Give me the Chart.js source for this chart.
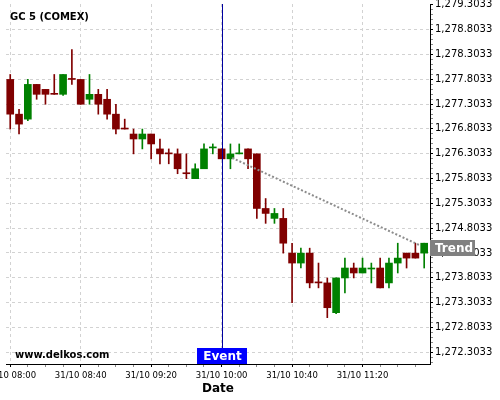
<!DOCTYPE html>
<html><head><meta charset="utf-8">
<script src="https://cdn.jsdelivr.net/npm/chart.js@4.4.1/dist/chart.umd.min.js"></script>
<style>html,body{margin:0;padding:0;background:#fff}canvas{display:block}</style>
</head><body>
<canvas id="c" width="500" height="400"></canvas>
<script>
const times = ["08:00","08:05","08:10","08:15","08:20","08:25","08:30","08:35","08:40","08:45","08:50","08:55",
               "09:00","09:05","09:10","09:15","09:20","09:25","09:30","09:35","09:40","09:45","09:50","09:55",
               "10:00","10:05","10:10","10:15","10:20","10:25","10:30","10:35","10:40","10:45","10:50","10:55",
               "11:00","11:05","11:10","11:15","11:20","11:25","11:30","11:35","11:40","11:45","11:50","11:55"];
const opens  = [1277.8,1277.1,1277.0,1277.7,1277.6,1277.52,1277.5,1277.82,1277.8,1277.4,1277.5,1277.4,
                1277.1,1276.82,1276.7,1276.6,1276.7,1276.4,1276.32,1276.3,1275.92,1275.8,1276.0,1276.42,
                1276.4,1276.2,1276.3,1276.4,1276.3,1275.2,1275.0,1275.0,1274.3,1274.1,1274.3,1273.72,
                1273.7,1273.1,1273.8,1274.0,1273.9,1273.98,1274.0,1273.7,1274.1,1274.3,1274.3,1274.3];
const highs  = [1277.9,1277.2,1277.8,1277.7,1277.6,1277.9,1277.9,1278.4,1277.8,1277.9,1277.6,1277.6,
                1277.3,1277.0,1276.8,1276.8,1276.7,1276.6,1276.4,1276.4,1276.3,1276.1,1276.5,1276.5,
                1276.4,1276.5,1276.5,1276.4,1276.3,1275.4,1275.2,1275.2,1274.5,1274.4,1274.4,1274.1,
                1273.8,1273.8,1274.2,1274.1,1274.2,1274.1,1274.2,1274.2,1274.5,1274.3,1274.5,1274.5];
const lows   = [1276.8,1276.7,1276.97,1277.4,1277.3,1277.5,1277.48,1277.7,1277.3,1277.3,1277.1,1277.0,
                1276.7,1276.8,1276.3,1276.4,1276.2,1276.1,1276.1,1275.9,1275.8,1275.8,1276.0,1276.3,
                1276.2,1276.0,1276.3,1276.0,1275.0,1274.9,1274.9,1274.3,1273.3,1274.0,1273.6,1273.6,
                1273.0,1273.08,1273.5,1273.8,1273.9,1273.7,1273.6,1273.6,1273.9,1274.0,1274.2,1274.0];
const closes = [1277.1,1276.9,1277.7,1277.5,1277.5,1277.5,1277.9,1277.8,1277.3,1277.5,1277.3,1277.1,
                1276.8,1276.8,1276.6,1276.7,1276.5,1276.3,1276.3,1276.0,1275.9,1276.0,1276.4,1276.44,
                1276.2,1276.3,1276.32,1276.2,1275.2,1275.1,1275.1,1274.5,1274.1,1274.3,1273.7,1273.7,
                1273.2,1273.8,1274.0,1273.9,1274.0,1274.0,1273.6,1274.1,1274.2,1274.2,1274.2,1274.5];
const trendTimes  = ["10:06","11:53"];
const trendValues = [1276.22,1274.45];
const eventTime = "10:00";
const xTickLabels = ["31/10 08:00","31/10 08:40","31/10 09:20","31/10 10:00","31/10 10:40","31/10 11:20"];
const yTickValues = [1272.3033,1272.8033,1273.3033,1273.8033,1274.3033,1274.8033,1275.3033,
                     1275.8033,1276.3033,1276.8033,1277.3033,1277.8033,1278.3033,1278.8033,1279.3033];
const titleText = "GC 5 (COMEX)";
const siteText = "www.delkos.com";

const toMin = s => { const p = s.split(':').map(Number); return (p[0]-8)*60 + p[1]; };
const xs = times.map(toMin);
const colUp = '#008000', colDn = '#800000';
const colorFn = c => closes[c.dataIndex] > opens[c.dataIndex] ? colUp : colDn;
const xMajor = xTickLabels.map(l => toMin(l.split(' ')[1]));
const fmtY = v => v.toLocaleString('en-US',{minimumFractionDigits:4, maximumFractionDigits:4});
const gridCol = '#d2d2d2';

Chart.defaults.font.family = 'DejaVu Sans';

const overlay = {
  id: 'overlay',
  afterDatasetsDraw(chart) {
    const {ctx, chartArea:a, scales:{x}} = chart;
    const ex = Math.round(x.getPixelForValue(toMin(eventTime))) + 0.5;
    ctx.save();
    ctx.strokeStyle = '#0000a0'; ctx.lineWidth = 1;
    ctx.beginPath(); ctx.moveTo(ex, a.top); ctx.lineTo(ex, a.bottom); ctx.stroke();
    ctx.restore();
  },
  afterDraw(chart) {
    const {ctx, chartArea:a, scales:{x,y}} = chart;
    ctx.save();
    ctx.fillStyle = '#000';
    ctx.textBaseline = 'alphabetic';
    ctx.textAlign = 'left';
    ctx.font = 'bold 10px "DejaVu Sans"';
    ctx.fillText(titleText, 10, 19.5);
    ctx.fillText(siteText, 15, 357.5);
    const ex = x.getPixelForValue(toMin(eventTime));
    ctx.fillStyle = '#0000ff';
    ctx.fillRect(Math.round(ex) - 25, a.bottom - 16, 50, 16);
    ctx.fillStyle = '#fff';
    ctx.font = 'bold 12px "DejaVu Sans"';
    ctx.textAlign = 'center';
    ctx.textBaseline = 'middle';
    ctx.fillText('Event', Math.round(ex) + 0.5, a.bottom - 7.5);
    const ty = y.getPixelForValue(trendValues[trendValues.length-1]) + 2.5;
    ctx.fillStyle = '#808080';
    ctx.fillRect(a.right, Math.round(ty) - 8, 45, 16);
    ctx.fillStyle = '#fff';
    ctx.textAlign = 'left';
    ctx.fillText('Trend', a.right + 5, Math.round(ty) + 0.5);
    ctx.restore();
  }
};

new Chart(document.getElementById('c'), {
  type: 'bar',
  data: {
    datasets: [
      { type:'line', data: trendTimes.map((t,i)=>({x:toMin(t), y:trendValues[i]})),
        borderColor:'#8c8c8c', borderWidth:2, borderDash:[2,2], pointRadius:0, fill:false, order:0 },
      { data: xs.map((x,i)=>({x, y:[opens[i], closes[i]]})), backgroundColor: colorFn,
        barThickness:7, minBarLength:1, grouped:false, borderWidth:0, order:1 },
      { data: xs.map((x,i)=>({x, y:[lows[i], highs[i]]})), backgroundColor: colorFn,
        barThickness:1, grouped:false, borderWidth:0, order:2 }
    ]
  },
  options: {
    responsive:false, animation:false, devicePixelRatio:1,
    layout:{ padding:{ left:6, top:4, right:0, bottom:0 } },
    plugins:{ legend:{display:false}, tooltip:{enabled:false}, title:{display:false} },
    scales:{
      x:{
        type:'linear', position:'bottom', min:-2.4, max:238.3, offset:false,
        afterBuildTicks: s => { const t=[]; for (let v=0; v<=230; v+=10) t.push({value:v, isMajor: xMajor.includes(v)}); s.ticks=t; },
        afterFit: s => { s.height = 36; s.paddingLeft = 0; s.paddingRight = 0; },
        ticks:{ autoSkip:false, maxRotation:0, minRotation:0, padding:4, color:'#000',
                font:{size:8.5},
                callback:(v,i,t) => { const k = xMajor.indexOf(v); return k>=0 ? xTickLabels[k] : ''; } },
        grid:{ offset:false, color: c => (c.tick && c.tick.isMajor) ? gridCol : 'rgba(0,0,0,0)',
               tickColor: c => (c.tick && c.tick.isMajor) ? '#000' : '#888', tickLength:3, lineWidth:1 },
        border:{ color:'#000', width:1, dash:[3,3] },
        title:{ display:true, text:'Date', color:'#000', font:{size:12, weight:'bold'}, padding:{top:0,bottom:4} }
      },
      y:{
        type:'linear', position:'right', min:1272.066, max:1279.32,
        afterBuildTicks: s => { const t=[];
          const lo = yTickValues[0];
          [lo-0.2, lo-0.1].forEach(v => t.push({value:v, isMajor:false}));
          yTickValues.forEach((m,j) => { t.push({value:m, isMajor:true});
            if (j < yTickValues.length-1) for (let k=1;k<5;k++) t.push({value:m+k*0.1, isMajor:false}); });
          s.ticks = t.filter(o => o.value >= s.min - 1e-6 && o.value <= s.max + 1e-6); },
        afterFit: s => { s.width = 70; s.paddingTop = 0; s.paddingBottom = 0; },
        ticks:{ autoSkip:false, padding:2, color:'#000', font:{size:10},
                callback:(v,i,t) => t[i].isMajor ? fmtY(v) : '' },
        grid:{ color: c => (c.tick && c.tick.isMajor && c.tick.value < 1279) ? gridCol : 'rgba(0,0,0,0)',
               tickColor: c => (c.tick && c.tick.isMajor) ? '#000' : '#888', tickLength:3, lineWidth:1 },
        border:{ color:'#000', width:1, dash:[3,3] }
      }
    }
  },
  plugins:[overlay]
});
</script>
</body></html>
